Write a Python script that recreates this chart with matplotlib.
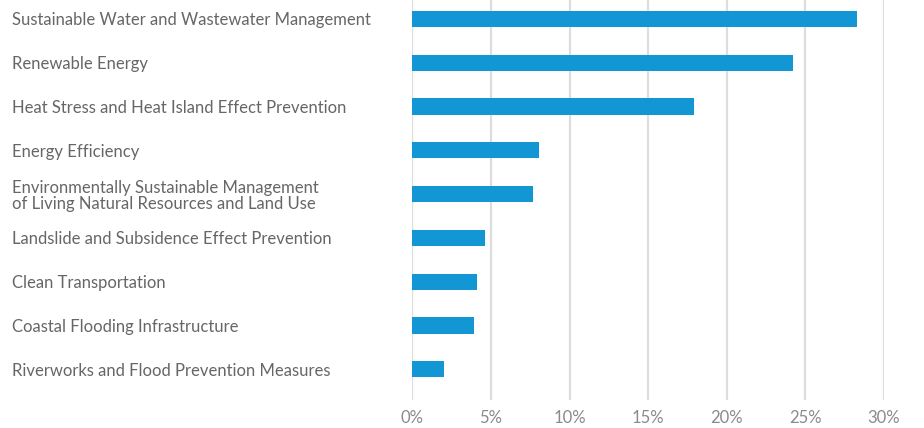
import matplotlib.pyplot as plt
from matplotlib.ticker import FuncFormatter

categories = [
    "Sustainable Water and Wastewater Management",
    "Renewable Energy",
    "Heat Stress and Heat Island Effect Prevention",
    "Energy Efficiency",
    "Environmentally Sustainable Management\nof Living Natural Resources and Land Use",
    "Landslide and Subsidence Effect Prevention",
    "Clean Transportation",
    "Coastal Flooding Infrastructure",
    "Riverworks and Flood Prevention Measures",
]
shares = [28.3, 24.2, 17.9, 8.05, 7.7, 4.65, 4.13, 3.95, 2.0]
x_ticks = [0, 5, 10, 15, 20, 25, 30]

plt.rcParams['font.family'] = ['Lato', 'DejaVu Sans']

fig = plt.figure(figsize=(9.24, 4.28), dpi=100)
ax = fig.add_axes([412.3 / 924, 1 - 400 / 428, (884 - 412.3) / 924, 400 / 428])

y = list(range(len(categories)))
ax.barh(y, shares, height=0.37, color='#1297d4', zorder=3)

ax.set_xlim(0, 30)
ax.set_ylim(len(categories) - 1 + 0.7, -0.43)
ax.set_xticks(x_ticks)
ax.xaxis.set_major_formatter(FuncFormatter(lambda v, p: f"{v:.0f}%"))
ax.grid(axis='x', color='#dddddd', linewidth=1.6, zorder=0)

ax.set_yticks(y)
ax.set_yticklabels(categories, ha='left', linespacing=1.05)
ax.tick_params(axis='y', length=0, pad=288, labelsize=12, labelcolor='#666666')
ax.tick_params(axis='x', length=0, pad=7, labelsize=12, labelcolor='#8a8a8a')

for s in ax.spines.values():
    s.set_visible(False)

fig.savefig('out.png', dpi=100)
